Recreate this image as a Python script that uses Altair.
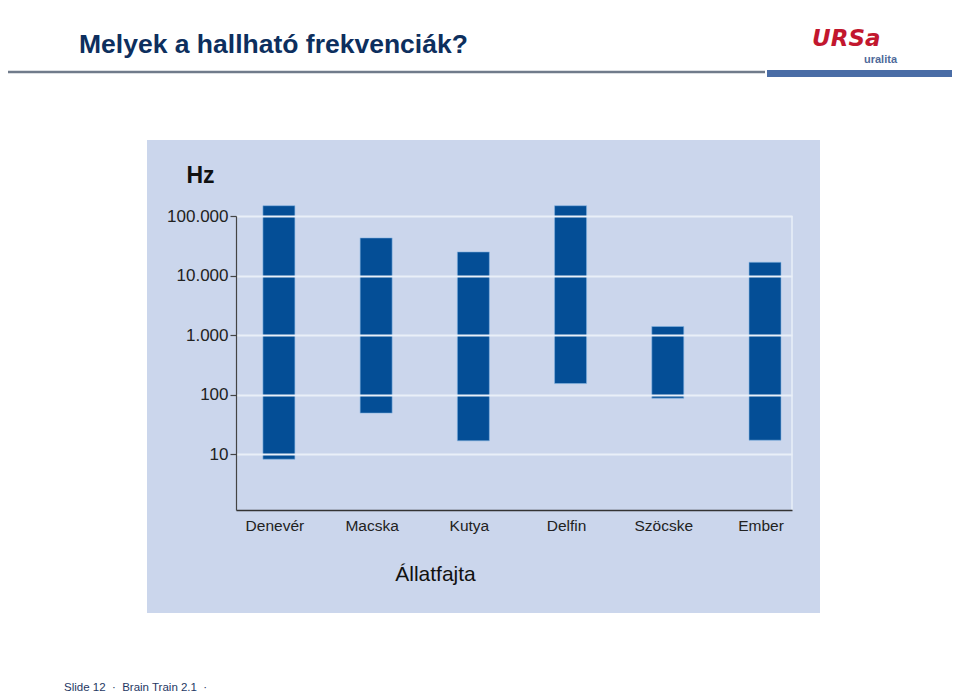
import altair as alt
import pandas as pd

# ---- data ----
animals = ["Denevér", "Macska", "Kutya", "Delfin", "Szöcske", "Ember"]
low_hz = [8.2, 48.8, 16.7, 153, 87, 17.1]
high_hz = [149000, 42800, 24900, 149000, 1390, 16700]
tick_values = [10, 100, 1000, 10000, 100000]
tick_labels = ["10", "100", "1.000", "10.000", "100.000"]

slide_title = "Melyek a hallható frekvenciák?"
y_title = "Hz"
x_title = "Állatfajta"
footer = "Slide 12\u00a0\u00a0·\u00a0\u00a0Brain Train 2.1\u00a0\u00a0·"
logo_main = "URSa"
logo_sub = "uralita"

# ---- layout ----
W, H = 556, 294
PAD_L, PAD_T = 228, 208
TOTAL_W, TOTAL_H = 944, 684
OX, OY = PAD_L + 8, PAD_T + 8  # plot origin on the page
FONT = "Liberation Sans"

df = pd.DataFrame({"animal": animals, "low": low_hz, "high": high_hz})
one = pd.DataFrame({"k": [0]})

label_expr = " : ".join(
    f"datum.value == {v} ? '{l}'" for v, l in zip(tick_values, tick_labels)
) + " : ''"

panel = alt.Chart(one).mark_rect(color="#cbd6ec").encode(
    x=alt.value(147 - OX), x2=alt.value(820 - OX),
    y=alt.value(140 - OY), y2=alt.value(613 - OY),
)

bars = alt.Chart(df).mark_bar(color="#044e96", stroke="#86b6e2", strokeWidth=0.6).encode(
    x=alt.X(
        "animal:N", sort=animals,
        scale=alt.Scale(paddingInner=0.671, paddingOuter=0.195, align=0.71),
        axis=alt.Axis(
            title=x_title, labelAngle=0, ticks=False, grid=False,
            labelFont=FONT, labelFontSize=15.5, labelColor="#222", labelPadding=8,
            labelOffset=-4,
            domainColor="#333", domainWidth=1.5,
            titleFont=FONT, titleFontSize=21, titleFontWeight="normal", titleColor="#111",
            titleX=199, titleY=70, titleBaseline="alphabetic", titleAlign="center",
            zindex=1,
        ),
    ),
    y=alt.Y(
        "low:Q",
        scale=alt.Scale(type="log", domain=[1.15, 100000], nice=False),
        axis=alt.Axis(
            values=tick_values, labelExpr=label_expr,
            title=y_title, titleAngle=0, titleX=-50, titleY=-34,
            titleAlign="left", titleBaseline="alphabetic",
            titleFont=FONT, titleFontSize=23, titleFontWeight="bold", titleColor="#111",
            labelFont=FONT, labelFontSize=17, labelColor="#222", labelPadding=2,
            tickSize=6, tickColor="#444", tickWidth=1.2,
            domainColor="#444", domainWidth=1.2,
            grid=True, gridColor="#e9eff8", gridWidth=1.8,
            zindex=1,
        ),
    ),
    y2="high:Q",
)

border = alt.Chart(one).mark_rule(color="#e9eff8", strokeWidth=1.5).encode(
    x=alt.value(W), y=alt.value(0), y2=alt.value(H)
)

title_t = alt.Chart(one).mark_text(
    text=slide_title, align="left", baseline="alphabetic", font=FONT,
    fontSize=26.5, fontWeight="bold", color="#0d2f5e",
).encode(x=alt.value(79 - OX), y=alt.value(53 - OY))

gray_line = alt.Chart(one).mark_rule(color="#707b8b", strokeWidth=2.5).encode(
    x=alt.value(-PAD_L), x2=alt.value(765 - OX), y=alt.value(72 - OY)
)
blue_bar = alt.Chart(one).mark_rule(color="#4a6da6", strokeWidth=7).encode(
    x=alt.value(767 - OX), x2=alt.value(960 - OX), y=alt.value(73.5 - OY)
)

logo1 = alt.Chart(one).mark_text(
    text=logo_main, align="left", baseline="alphabetic", font="DejaVu Sans",
    fontSize=23, fontWeight="bold", fontStyle="italic", color="#c2172e",
).encode(x=alt.value(812 - OX), y=alt.value(46 - OY))
logo2 = alt.Chart(one).mark_text(
    text=logo_sub, align="left", baseline="alphabetic", font=FONT,
    fontSize=11, fontWeight="bold", color="#4f6a9a",
).encode(x=alt.value(864 - OX), y=alt.value(63 - OY))

footer_t = alt.Chart(one).mark_text(
    text=footer, align="left", baseline="alphabetic", font=FONT,
    fontSize=11.5, color="#1f3864",
).encode(x=alt.value(64 - OX), y=alt.value(691 - OY))

chart = alt.layer(
    panel, bars, border, title_t, gray_line, blue_bar, logo1, logo2, footer_t
).properties(
    width=W, height=H,
    padding={"left": PAD_L, "top": PAD_T, "right": TOTAL_W - PAD_L - W, "bottom": TOTAL_H - PAD_T - H},
    autosize=alt.AutoSizeParams(type="none"),
    background="white",
).configure_view(stroke=None)

chart.save("out.html", embed_options={"renderer": "svg", "actions": False})
